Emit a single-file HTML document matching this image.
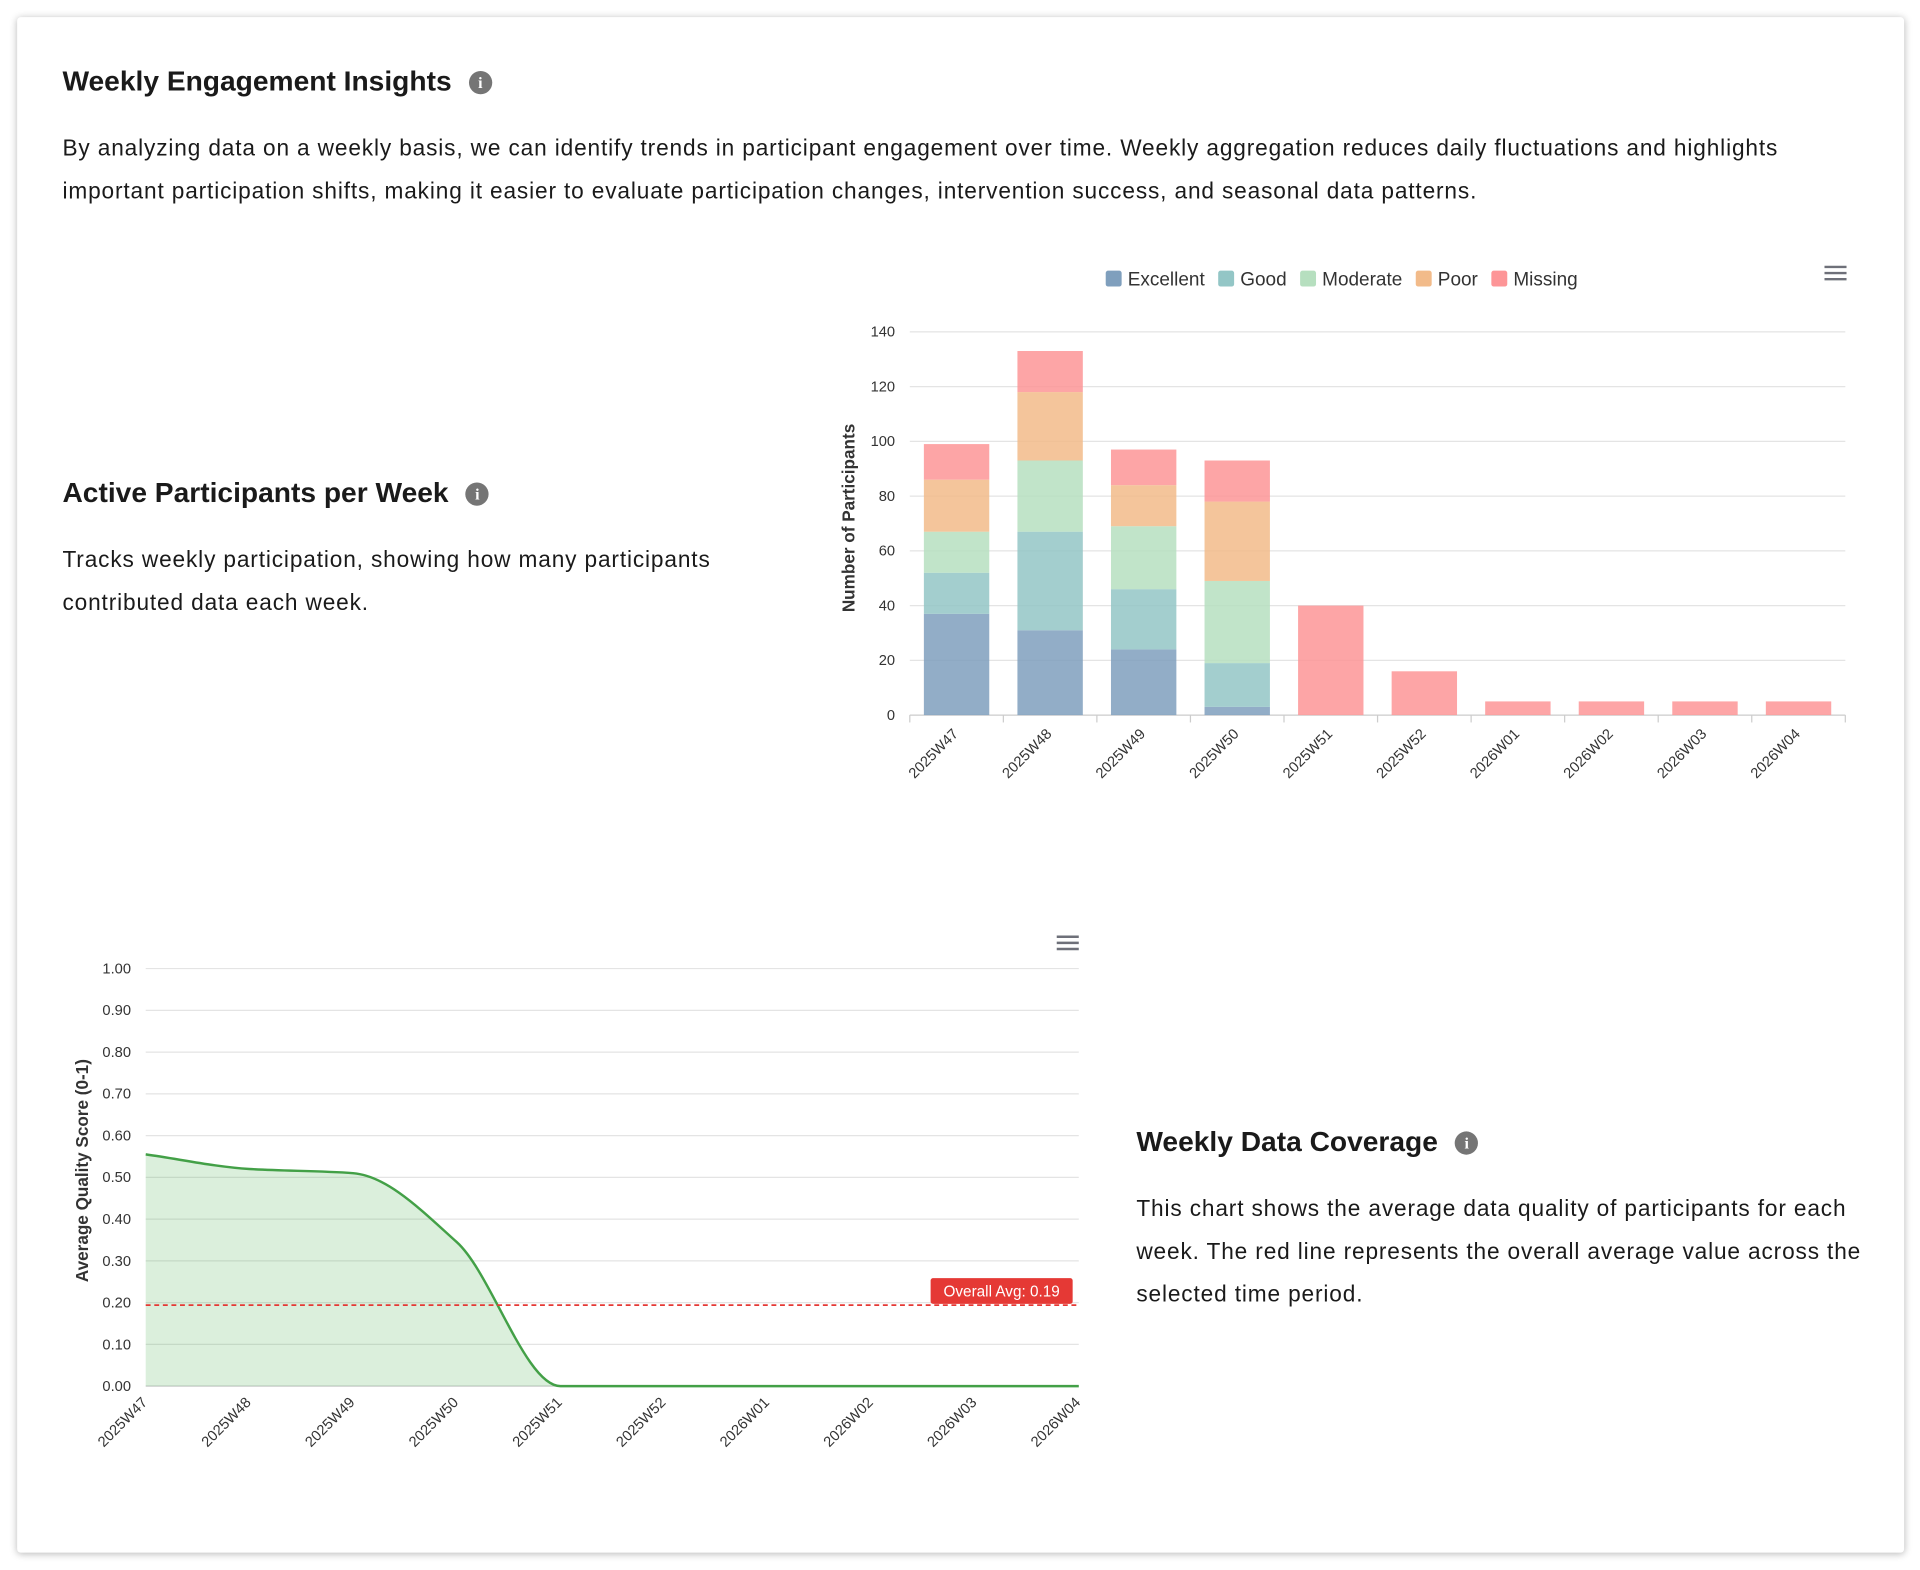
<!DOCTYPE html>
<html><head><meta charset="utf-8"><style>
html,body{margin:0;padding:0;background:#fff;width:1920px;height:1570px;overflow:hidden}
#wrap{position:absolute;left:0;top:0;width:1568px;height:1282px;transform:scale(1.22449);transform-origin:0 0;font-family:"Liberation Sans",sans-serif;color:#111}
.card{position:absolute;left:14px;top:14px;width:1541px;height:1254px;background:#fff;box-shadow:0 1px 6px rgba(0,0,0,.28);border-radius:3px}
h2{position:absolute;margin:0;font-size:23px;font-weight:bold;color:#1a1a1a;white-space:nowrap}
.info{display:inline-block;width:19px;height:19px;border-radius:50%;background:#757575;color:#fff;font-size:13px;text-align:center;line-height:19px;font-family:"Liberation Serif",serif;font-weight:bold;vertical-align:2px;margin-left:14px}
p{position:absolute;margin:0;font-size:18.5px;line-height:35px;color:#1a1a1a;letter-spacing:0.7px}
svg{position:absolute;left:0;top:0}
</style></head><body>
<div id="wrap">
<div class="card"></div>
<h2 style="left:51px;top:53px">Weekly Engagement Insights<span class="info">i</span></h2>
<p style="left:51px;top:103px;width:1470px">By analyzing data on a weekly basis, we can identify trends in participant engagement over time. Weekly aggregation reduces daily fluctuations and highlights important participation shifts, making it easier to evaluate participation changes, intervention success, and seasonal data patterns.</p>
<h2 style="left:51px;top:389px">Active Participants per Week<span class="info">i</span></h2>
<p style="left:51px;top:439px;width:560px">Tracks weekly participation, showing how many participants contributed data each week.</p>
<h2 style="left:928px;top:919px">Weekly Data Coverage<span class="info">i</span></h2>
<p style="left:928px;top:969px;width:600px">This chart shows the average data quality of participants for each week. The red line represents the overall average value across the selected time period.</p>
<svg id="bar" width="1568" height="1282"></svg>
<svg id="line" width="1568" height="1282"></svg>
</div>
<script>
const weeks=["2025W47","2025W48","2025W49","2025W50","2025W51","2025W52","2026W01","2026W02","2026W03","2026W04"];
const excellent=[37,31,24,3,0,0,0,0,0,0];
const good=[15,36,22,16,0,0,0,0,0,0];
const moderate=[15,26,23,30,0,0,0,0,0,0];
const poor=[19,25,15,29,0,0,0,0,0,0];
const missing=[13,15,13,15,40,16,5,5,5,5];
const barTicks=[0,20,40,60,80,100,120,140];
const quality=[0.555,0.52,0.51,0.345,0,0,0,0,0,0];
const qualityTicks=[0,0.1,0.2,0.3,0.4,0.5,0.6,0.7,0.8,0.9,1.0];
const overallAvg=0.194;
const NS="http://www.w3.org/2000/svg";
function mk(p,t,a,txt){const e=document.createElementNS(NS,t);for(const k in a)e.setAttribute(k,a[k]);if(txt!==undefined)e.textContent=txt;p.appendChild(e);return e;}

// BAR CHART
const B=document.getElementById('bar');
const bx0=743,bx1=1507,by0=584,by1=271,bmax=140;
const bY=v=>by0-(v/bmax)*(by0-by1);
const bBand=(bx1-bx0)/weeks.length;
const bX=i=>bx0+bBand*i;
barTicks.forEach(t=>{
  const g=mk(B,'line',{x1:bx0,x2:bx1,y1:bY(t),y2:bY(t),stroke:t===0?'#ccc':'#e4e4e4','stroke-width':1});
  
  const l=mk(B,'text',{x:731,y:bY(t)+4,'text-anchor':'end','font-size':12,fill:'#333'},t);
  
});
const series=[["Excellent",excellent,"#7f9fbd"],["Good",good,"#93c6c6"],["Moderate",moderate,"#b6dfbf"],["Poor",poor,"#f2bb8a"],["Missing",missing,"#fd9597"]];
weeks.forEach((w,i)=>{
  let acc=0;
  series.forEach(s=>{const v=s[1][i];if(v>0){
    const r=mk(B,'rect',{x:bX(i)+11.5,y:bY(acc+v),width:bBand-23,height:bY(acc)-bY(acc+v),fill:s[2],'fill-opacity':0.85});
    
  }acc+=v;});
  const tk=mk(B,'line',{x1:bX(i),x2:bX(i),y1:by0,y2:by0+6,stroke:'#ccc'});
  
  const cx=bX(i)+bBand/2+2;
  const l=mk(B,'text',{x:cx,y:by0+16,'text-anchor':'end','font-size':12,fill:'#333',transform:`rotate(-45 ${cx} ${by0+16})`},w);
  
});
mk(B,'line',{x1:bx1,x2:bx1,y1:by0,y2:by0+6,stroke:'#ccc'});
const yt=mk(B,'text',{x:698,y:423,'text-anchor':'middle','font-size':14,'font-weight':'bold',fill:'#333',transform:'rotate(-90 698 423)'},'Number of Participants');

let lx=903;
series.forEach(s=>{
  const g=mk(B,'g',{});
  
  mk(g,'rect',{x:lx,y:221,width:13,height:13,rx:2,fill:s[2]});
  const t=mk(g,'text',{x:lx+18,y:233,'font-size':15.5,fill:'#333'},s[0]);
  lx+=18+t.getComputedTextLength()+11;
});
function menu(svg,x,y){const g=mk(svg,'g',{});
  [0,5,10].forEach(d=>mk(g,'line',{x1:x,x2:x+18,y1:y+d,y2:y+d,stroke:'#6e7079','stroke-width':2}));}
menu(B,1490,218);

// LINE CHART
const L=document.getElementById('line');
const lx0=119,lx1=881,ly0=1132,ly1=791;
const lY=v=>ly0-v*(ly0-ly1);
const lX=i=>lx0+(lx1-lx0)*i/(weeks.length-1);
qualityTicks.forEach(t=>{
  const g=mk(L,'line',{x1:lx0,x2:lx1,y1:lY(t),y2:lY(t),stroke:t===0?'#ccc':'#e4e4e4'});
  
  const l=mk(L,'text',{x:107,y:lY(t)+4,'text-anchor':'end','font-size':12,fill:'#333'},t.toFixed(2));
  
});
const pts=quality.map((v,i)=>[lX(i),lY(v)]);
const n=pts.length,dx=[],sl=[],m=[];
for(let i=0;i<n-1;i++){dx[i]=pts[i+1][0]-pts[i][0];sl[i]=(pts[i+1][1]-pts[i][1])/dx[i];}
m[0]=sl[0];m[n-1]=sl[n-2];
for(let i=1;i<n-1;i++){m[i]=(sl[i-1]*sl[i]<=0)?0:(3*(dx[i-1]+dx[i]))/((2*dx[i]+dx[i-1])/sl[i-1]+(dx[i]+2*dx[i-1])/sl[i]);}
let d=`M${pts[0][0]},${pts[0][1]}`;
for(let i=0;i<n-1;i++){const h=dx[i]/3;d+=` C${pts[i][0]+h},${pts[i][1]+m[i]*h} ${pts[i+1][0]-h},${pts[i+1][1]-m[i+1]*h} ${pts[i+1][0]},${pts[i+1][1]}`;}
const area=mk(L,'path',{d:d+` L${lx1},${ly0} L${lx0},${ly0} Z`,fill:'#4caf50','fill-opacity':0.2});

const ln=mk(L,'path',{d:d,fill:'none',stroke:'#43a047','stroke-width':2});

const av=mk(L,'line',{x1:lx0,x2:lx1,y1:lY(overallAvg),y2:lY(overallAvg),stroke:'#e53935','stroke-width':1.5,'stroke-dasharray':'4,3'});

const ag=mk(L,'g',{});
mk(ag,'rect',{x:760,y:lY(overallAvg)-22,width:116,height:21,rx:2,fill:'#e53935'});
mk(ag,'text',{x:818,y:lY(overallAvg)-7,'text-anchor':'middle','font-size':12.5,fill:'#fff'},'Overall Avg: '+overallAvg.toFixed(2));
weeks.forEach((w,i)=>{
  const x=lX(i);
  const l=mk(L,'text',{x:x+2,y:ly0+14,'text-anchor':'end','font-size':12,fill:'#333',transform:`rotate(-45 ${x+2} ${ly0+14})`},w);
  
});
const lt=mk(L,'text',{x:72,y:956,'text-anchor':'middle','font-size':14,'font-weight':'bold',fill:'#333',transform:'rotate(-90 72 956)'},'Average Quality Score (0-1)');

menu(L,863,765);
</script>
</body></html>
